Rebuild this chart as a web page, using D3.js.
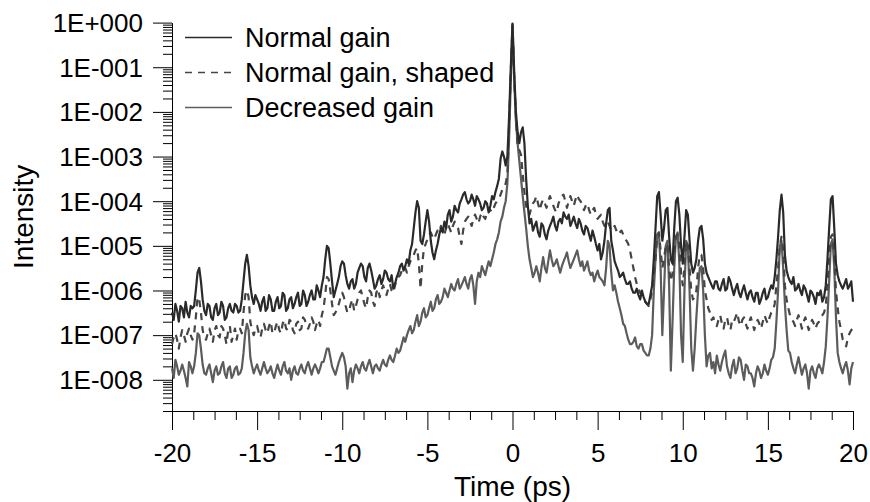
<!DOCTYPE html>
<html>
<head>
<meta charset="utf-8">
<script src="https://cdnjs.cloudflare.com/ajax/libs/d3/7.8.5/d3.min.js"></script>
<style>
	body { margin: 0; background: #fff; }
	text { font-family: "Liberation Sans", Arial, Helvetica, sans-serif; fill: #000; }
</style>
</head>
<body>
<div id="chart"></div>
<script>

///////////////////////////////////////////////////////////////////////////
//////////////////////////////// The data /////////////////////////////////
///////////////////////////////////////////////////////////////////////////

//One sample every 0.1 ps, from -20 ps to 20 ps (401 points per trace, 2 ps per row)
var timeStart = -20,
	timeStep = 0.1;

var normalGain = [
	3.2e-7, 2.2e-7, 5e-7, 3.5e-7, 2e-7, 4.5e-7, 4e-7, 2.5e-7, 5.6e-7, 3.2e-7, 2.5e-7, 4.5e-7, 4e-7, 4.5e-7, 1e-6, 2.5e-6, 3.2e-6, 1.6e-6, 6.3e-7, 3.5e-7,
	2.8e-7, 5e-7, 4.5e-7, 2.5e-7, 2.2e-7, 4e-7, 5e-7, 2.8e-7, 3.2e-7, 5.6e-7, 4.5e-7, 2.2e-7, 2.5e-7, 4e-7, 5e-7, 3.5e-7, 3.2e-7, 5e-7, 4.5e-7, 3.2e-7,
	3.5e-7, 6.3e-7, 1.6e-6, 4e-6, 6.3e-6, 3.5e-6, 1.3e-6, 7.1e-7, 5e-7, 7.9e-7, 6.3e-7, 5e-7, 3.5e-7, 5.6e-7, 7.1e-7, 3.5e-7, 4e-7, 7.9e-7, 6.3e-7, 3.5e-7,
	3.5e-7, 5.6e-7, 7.1e-7, 4e-7, 4.5e-7, 8.9e-7, 7.9e-7, 3.5e-7, 4e-7, 6.3e-7, 7.1e-7, 4e-7, 5e-7, 7.1e-7, 8.9e-7, 4.5e-7, 5e-7, 1e-6, 7.9e-7, 4.5e-7,
	5.6e-7, 7.9e-7, 1e-6, 6.3e-7, 6.3e-7, 1.3e-6, 1e-6, 7.1e-7, 1.3e-6, 2e-6, 5e-6, 1e-5, 8.9e-6, 4e-6, 1.6e-6, 7.1e-7, 1e-6, 1.4e-6, 2e-6, 3.5e-6,
	4.5e-6, 4e-6, 2.2e-6, 1.4e-6, 1.1e-6, 1.6e-6, 1.8e-6, 1.1e-6, 1.4e-6, 2.5e-6, 3.2e-6, 4e-6, 3.5e-6, 2e-6, 1.6e-6, 3.2e-6, 4e-6, 2.8e-6, 1.8e-6, 1.1e-6,
	1.3e-6, 1.8e-6, 2.2e-6, 1.4e-6, 1.8e-6, 2.8e-6, 2.5e-6, 1.8e-6, 1.6e-6, 2.2e-6, 1.1e-6, 1.4e-6, 2e-6, 2.5e-6, 3.5e-6, 4e-6, 2.8e-6, 3.5e-6, 5e-6, 4e-6,
	7.9e-6, 1.1e-5, 2.5e-5, 5.6e-5, 1e-4, 7.1e-5, 1.3e-5, 1.1e-5, 1.8e-5, 3.5e-5, 6.3e-5, 3.5e-5, 1.3e-5, 7.1e-6, 5e-6, 7.9e-6, 1.1e-5, 1.8e-5, 2.5e-5, 2e-5,
	3.5e-5, 2.5e-5, 5e-5, 6.3e-5, 3.5e-5, 4.5e-5, 7.9e-5, 6.3e-5, 5.6e-5, 8.9e-5, 1.1e-4, 1.4e-4, 1.6e-4, 1.1e-4, 8.9e-5, 1e-4, 1.4e-4, 1.1e-4, 7.9e-5, 1.3e-4,
	1.1e-4, 8.9e-5, 6.3e-5, 7.1e-5, 1e-4, 8.9e-5, 5.6e-5, 7.9e-5, 1.3e-4, 1.1e-4, 1.6e-4, 2.2e-4, 3.2e-4, 8.9e-4, 1.3e-3, 1e-3, 6.3e-4, 1e-3, 7.9e-3, 1e-1,
	0.95, 8e-2, 1e-2, 3.5e-3, 2e-3, 3.5e-3, 4.5e-3, 2e-3, 3.2e-4, 7.9e-5, 3.2e-5, 4e-5, 2.2e-5, 2.8e-5, 3.5e-5, 2e-5, 1.6e-5, 3.2e-5, 2.8e-5, 1.8e-5,
	1.4e-5, 2.2e-5, 2.8e-5, 3.5e-5, 4.5e-5, 2.8e-5, 2.2e-5, 3.5e-5, 4e-5, 3.2e-5, 5.6e-5, 4.5e-5, 4e-5, 5e-5, 2.8e-5, 3.5e-5, 4.5e-5, 3.2e-5, 2.5e-5, 4e-5,
	3.2e-5, 2.2e-5, 1.8e-5, 2.8e-5, 2.5e-5, 1.8e-5, 1.3e-5, 2.2e-5, 1.6e-5, 1.1e-5, 7.9e-6, 1.1e-5, 5e-6, 7.1e-6, 1.3e-5, 3.2e-5, 6.3e-5, 7.1e-5, 1.3e-5, 7.9e-6,
	4.5e-6, 3.5e-6, 2.8e-6, 2e-6, 2.2e-6, 2.5e-6, 1.8e-6, 1.4e-6, 1.4e-6, 1.6e-6, 1.1e-6, 8.9e-7, 8.9e-7, 1.1e-6, 7.9e-7, 6.3e-7, 1e-6, 7.1e-7, 5.6e-7, 5e-7,
	5e-7, 7.9e-7, 1.3e-6, 5e-6, 2.5e-5, 1.3e-4, 1.6e-4, 5e-5, 1.3e-5, 2.5e-5, 6.3e-5, 7.1e-5, 1.6e-5, 5e-6, 4e-6, 2.5e-5, 1e-4, 1.2e-4, 5e-5, 1e-5,
	4e-6, 1.6e-5, 6.3e-5, 5e-5, 1.3e-5, 4e-6, 2.5e-6, 3.2e-6, 5e-6, 1.3e-5, 2.5e-5, 2.8e-5, 1.4e-5, 4e-6, 2.5e-6, 2e-6, 1.6e-6, 1.3e-6, 1.1e-6, 1.6e-6,
	1.6e-6, 1.1e-6, 1e-6, 1.4e-6, 1.8e-6, 1e-6, 1.1e-6, 2e-6, 1.6e-6, 1.1e-6, 7.9e-7, 1.1e-6, 1.4e-6, 8.9e-7, 7.1e-7, 1e-6, 1.3e-6, 8.9e-7, 6.3e-7, 8.9e-7,
	1e-6, 7.1e-7, 5.6e-7, 8.9e-7, 8.9e-7, 5e-7, 6.3e-7, 8.9e-7, 1.1e-6, 6.3e-7, 7.1e-7, 1e-6, 1.3e-6, 1.1e-6, 2e-6, 5e-6, 1.6e-5, 6.3e-5, 1.4e-4, 5.6e-5,
	6.3e-6, 2.8e-6, 2e-6, 1.6e-6, 1.4e-6, 2e-6, 1e-6, 1.1e-6, 1.4e-6, 1e-6, 7.9e-7, 1.3e-6, 1.1e-6, 7.9e-7, 5.6e-7, 1e-6, 8.9e-7, 7.1e-7, 5e-7, 8.9e-7,
	7.9e-7, 1e-6, 5.6e-7, 7.1e-7, 1.3e-6, 5e-6, 2.5e-5, 1.1e-4, 1.3e-4, 2.5e-5, 4e-6, 2.2e-6, 1.6e-6, 1.3e-6, 1.1e-6, 1.4e-6, 1.8e-6, 1.1e-6, 1.3e-6, 1.6e-6,
	5.6e-7
];

var normalGainShaped = [
	6.3e-8, 8.9e-8, 1.1e-7, 7.9e-8, 5e-8, 8.9e-8, 1.3e-7, 1e-7, 7.1e-8, 1.1e-7, 1.4e-7, 1e-7, 7.9e-8, 1.1e-7, 2.5e-7, 7.1e-7, 6.3e-7, 3.2e-7, 1.3e-7, 8.9e-8,
	7.9e-8, 1.1e-7, 1.4e-7, 1e-7, 7.1e-8, 1.3e-7, 1.6e-7, 1e-7, 8.9e-8, 1.6e-7, 1.4e-7, 1e-7, 6.3e-8, 1.3e-7, 1.6e-7, 7.1e-8, 1e-7, 1.4e-7, 7.9e-8, 1.3e-7,
	1.4e-7, 1.1e-7, 3.2e-7, 7.9e-7, 1e-6, 7.1e-7, 2e-7, 1.3e-7, 1e-7, 1.4e-7, 1.6e-7, 1.1e-7, 8.9e-8, 1.4e-7, 1.8e-7, 1.3e-7, 1.1e-7, 1.6e-7, 2e-7, 1.1e-7,
	1.1e-7, 1.6e-7, 2e-7, 1.3e-7, 1.1e-7, 1.8e-7, 2.2e-7, 1.4e-7, 1.3e-7, 2.2e-7, 2e-7, 1.3e-7, 1.1e-7, 1.8e-7, 2e-7, 1.3e-7, 1.4e-7, 2.5e-7, 2.2e-7, 1.6e-7,
	1.4e-7, 1.8e-7, 2.5e-7, 2e-7, 1.3e-7, 1.8e-7, 2.2e-7, 1.6e-7, 2.8e-7, 4e-7, 7.9e-7, 2e-6, 1.8e-6, 1e-6, 5e-7, 2.8e-7, 3.2e-7, 4e-7, 5e-7, 7.1e-7,
	8.9e-7, 7.1e-7, 4.5e-7, 3.2e-7, 3.5e-7, 5e-7, 6.3e-7, 3.5e-7, 4.5e-7, 6.3e-7, 8.9e-7, 1e-6, 7.1e-7, 5e-7, 4e-7, 7.1e-7, 1e-6, 8.9e-7, 5.6e-7, 4.5e-7,
	8.9e-7, 1.1e-6, 7.1e-7, 1e-6, 1.3e-6, 1e-6, 7.9e-7, 1.1e-6, 1.4e-6, 1e-6, 8.9e-7, 1.3e-6, 1.8e-6, 2e-6, 2.2e-6, 2.8e-6, 3.5e-6, 3.2e-6, 2.5e-6, 3.5e-6,
	4.5e-6, 5e-6, 6.3e-6, 7.9e-6, 8.9e-6, 4e-6, 1.1e-6, 4e-6, 8.9e-6, 1.1e-5, 1.4e-5, 1.8e-5, 2e-5, 1.6e-5, 1.4e-5, 1.8e-5, 2.2e-5, 2e-5, 2.8e-5, 2.2e-5,
	1.8e-5, 2.5e-5, 3.2e-5, 2.5e-5, 2e-5, 2.8e-5, 3.5e-5, 2.8e-5, 2.5e-5, 1.6e-5, 1.1e-5, 2.2e-5, 3.5e-5, 4e-5, 4.5e-5, 3.5e-5, 2.8e-5, 4e-5, 5e-5, 4e-5,
	3.2e-5, 4.5e-5, 5.6e-5, 4.5e-5, 4e-5, 5.6e-5, 7.1e-5, 6.3e-5, 5.6e-5, 7.1e-5, 8.9e-5, 1e-4, 1.1e-4, 1.4e-4, 1.8e-4, 2e-4, 2.5e-4, 4e-4, 5e-3, 8e-2,
	0.9, 6e-2, 7.9e-3, 1.6e-3, 1.4e-3, 1.1e-3, 4e-4, 1.6e-4, 7.9e-5, 5.6e-5, 5e-5, 7.1e-5, 8.9e-5, 1e-4, 1.3e-4, 8.9e-5, 6.3e-5, 8.9e-5, 1.1e-4, 8.9e-5,
	7.1e-5, 1e-4, 1.3e-4, 1e-4, 7.9e-5, 6.3e-5, 5.6e-5, 8.9e-5, 1.1e-4, 1.3e-4, 1.4e-4, 1e-4, 7.1e-5, 1e-4, 1.3e-4, 1e-4, 7.9e-5, 1.1e-4, 1.4e-4, 1.1e-4,
	1e-4, 7.9e-5, 6.3e-5, 7.9e-5, 8.9e-5, 6.3e-5, 5e-5, 6.3e-5, 7.1e-5, 5e-5, 4e-5, 4.5e-5, 5e-5, 3.5e-5, 2.8e-5, 3.5e-5, 3.5e-5, 2.8e-5, 2.2e-5, 2.5e-5,
	2.8e-5, 2.2e-5, 1.8e-5, 2e-5, 2.2e-5, 1.8e-5, 1.4e-5, 1.3e-5, 1.1e-5, 8e-6, 5e-6, 3.2e-6, 2e-6, 1.4e-6, 1.1e-6, 8.9e-7, 7.9e-7, 6.3e-7, 5.6e-7, 5e-7,
	4.5e-7, 6.3e-7, 1e-6, 2.5e-6, 5e-6, 1.6e-5, 2e-5, 8e-6, 3.2e-6, 5e-6, 1e-5, 1.1e-5, 3.2e-6, 1.6e-6, 2.5e-6, 6.3e-6, 1.6e-5, 1.8e-5, 1e-5, 2.5e-6,
	1.3e-6, 3.2e-6, 1.3e-5, 1e-5, 3.2e-6, 1e-6, 6.3e-7, 7.1e-7, 1e-6, 3.2e-6, 6.3e-6, 6.3e-6, 3.2e-6, 1e-6, 6.3e-7, 4e-7, 3.2e-7, 2.2e-7, 2.5e-7, 1.8e-7,
	1.6e-7, 2.2e-7, 2.8e-7, 1.8e-7, 1.4e-7, 2.2e-7, 2.5e-7, 1.6e-7, 1.3e-7, 2.2e-7, 2e-7, 2.5e-7, 3.2e-7, 2e-7, 1.6e-7, 2.2e-7, 2.5e-7, 1.8e-7, 1.4e-7, 2e-7,
	2.5e-7, 1.8e-7, 1.3e-7, 1.8e-7, 2.2e-7, 1.8e-7, 1.4e-7, 2e-7, 2.8e-7, 2.2e-7, 1.8e-7, 2.5e-7, 3.2e-7, 3.5e-7, 5e-7, 1.3e-6, 3.2e-6, 1e-5, 1.6e-5, 8e-6,
	1.3e-6, 6.3e-7, 4e-7, 2.8e-7, 2.2e-7, 2e-7, 1.6e-7, 2.2e-7, 2.8e-7, 2e-7, 1.4e-7, 2e-7, 2.5e-7, 1.8e-7, 1.3e-7, 1.8e-7, 2.2e-7, 1.8e-7, 1.4e-7, 1.8e-7,
	2e-7, 2.5e-7, 2.8e-7, 3.2e-7, 4.5e-7, 1.3e-6, 5e-6, 1.6e-5, 1.8e-5, 5e-6, 1e-6, 4e-7, 2e-7, 1.3e-7, 7.9e-8, 7.1e-8, 5.6e-8, 8.9e-8, 1.1e-7, 1.3e-7,
	1.4e-7
];

var decreasedGain = [
	1.8e-8, 1.1e-8, 2.8e-8, 2e-8, 1.3e-8, 1.6e-8, 2.2e-8, 1.6e-8, 1.1e-8, 7.1e-9, 2.5e-8, 2e-8, 1.4e-8, 2e-8, 4e-8, 1.1e-7, 1e-7, 5e-8, 2.2e-8, 1.4e-8,
	1.3e-8, 1.8e-8, 2.2e-8, 1.4e-8, 8.9e-9, 1.6e-8, 2e-8, 1.3e-8, 1.4e-8, 2e-8, 2.5e-8, 1.4e-8, 1.1e-8, 1.8e-8, 2e-8, 1.1e-8, 1.3e-8, 1.8e-8, 2e-8, 1.3e-8,
	1.4e-8, 1.8e-8, 4e-8, 1.1e-7, 1.8e-7, 1.3e-7, 3.2e-8, 2e-8, 1.4e-8, 1.8e-8, 2.2e-8, 1.6e-8, 1.3e-8, 1.8e-8, 2.5e-8, 1.8e-8, 1.4e-8, 1.6e-8, 2e-8, 1.4e-8,
	1.1e-8, 1.6e-8, 2.2e-8, 1.6e-8, 1.3e-8, 2e-8, 2.5e-8, 1.6e-8, 1.4e-8, 1.8e-8, 1e-8, 1.6e-8, 2e-8, 1.4e-8, 1.3e-8, 1.8e-8, 2.2e-8, 1.6e-8, 1.4e-8, 2e-8,
	2.5e-8, 1.8e-8, 1.3e-8, 1.8e-8, 2.2e-8, 1.8e-8, 1.4e-8, 1.8e-8, 2.5e-8, 2.5e-8, 3.5e-8, 5e-8, 5e-8, 3.2e-8, 2e-8, 1.6e-8, 1.3e-8, 1.8e-8, 2.5e-8, 3.2e-8,
	4e-8, 3.2e-8, 2e-8, 6.3e-9, 1.4e-8, 1.8e-8, 8.9e-9, 1.6e-8, 2.2e-8, 1.8e-8, 1.4e-8, 2e-8, 2.5e-8, 1.8e-8, 1.6e-8, 2.2e-8, 2.8e-8, 2e-8, 1.4e-8, 2e-8,
	2.2e-8, 1.8e-8, 1.6e-8, 2.2e-8, 2.8e-8, 2.2e-8, 2e-8, 2.8e-8, 3.5e-8, 2.8e-8, 2.5e-8, 3.5e-8, 5e-8, 4e-8, 4.5e-8, 6.3e-8, 8.9e-8, 7.1e-8, 1e-7, 1.3e-7,
	1.6e-7, 1.1e-7, 1.3e-7, 2e-7, 2.8e-7, 1.6e-7, 2e-7, 3.2e-7, 4e-7, 2.5e-7, 2.8e-7, 4e-7, 5.6e-7, 3.5e-7, 4e-7, 6.3e-7, 7.9e-7, 5e-7, 5.6e-7, 7.1e-7,
	1.1e-6, 8.9e-7, 7.1e-7, 1e-6, 1.4e-6, 1.1e-6, 1e-6, 1.4e-6, 1.8e-6, 1.1e-6, 1.3e-6, 1.6e-6, 2e-6, 1.4e-6, 1.1e-6, 1.8e-6, 2.2e-6, 1.3e-6, 5e-7, 1.6e-6,
	2.5e-6, 2e-6, 3.5e-6, 2.8e-6, 2.2e-6, 3.2e-6, 4.5e-6, 3.5e-6, 5e-6, 7.1e-6, 1.1e-5, 1.4e-5, 2e-5, 3.5e-5, 4.5e-5, 7.1e-5, 1e-4, 2.5e-4, 2.5e-3, 5e-2,
	0.85, 5e-2, 6.3e-3, 2e-3, 7.9e-4, 3.2e-4, 1.3e-4, 5.6e-5, 2.5e-5, 1e-5, 5e-6, 3.2e-6, 2e-6, 2.5e-6, 3.5e-6, 2.5e-6, 1.6e-6, 3.2e-6, 5.6e-6, 3.2e-6,
	2.5e-6, 4.5e-6, 7.9e-6, 5e-6, 3.5e-6, 4e-6, 5e-6, 3.5e-6, 2.5e-6, 3.5e-6, 4.5e-6, 5.6e-6, 7.1e-6, 4.5e-6, 3.2e-6, 4e-6, 5e-6, 6.3e-6, 7.9e-6, 5e-6,
	3.5e-6, 4.5e-6, 2.8e-6, 3.5e-6, 4.5e-6, 2.8e-6, 2.2e-6, 2.5e-6, 1.6e-6, 2.2e-6, 2.8e-6, 2e-6, 1.8e-6, 1.6e-6, 1.3e-6, 3.2e-6, 1.3e-5, 1e-5, 2.5e-6, 1e-6,
	1.3e-6, 8.9e-7, 5.6e-7, 4e-7, 2.8e-7, 1.8e-7, 1.6e-7, 1.1e-7, 7.9e-8, 6.3e-8, 6.3e-8, 7.1e-8, 8.9e-8, 5.6e-8, 5e-8, 6.3e-8, 6.3e-8, 4.5e-8, 4e-8, 3.5e-8,
	3.5e-8, 5e-8, 1e-7, 1e-6, 5e-6, 1.8e-5, 2e-5, 3.2e-6, 1e-7, 1e-6, 1e-5, 1.3e-5, 1.3e-6, 1.6e-8, 2e-7, 3.2e-6, 1.6e-5, 2e-5, 4e-6, 1e-7,
	2.5e-8, 1e-6, 1.3e-5, 1e-5, 1e-6, 5e-8, 1.6e-8, 5e-8, 2.5e-7, 1e-6, 3.2e-6, 3.5e-6, 1e-6, 1e-7, 2e-8, 3.5e-8, 4e-8, 1.8e-8, 2.5e-8, 1.4e-8,
	3.5e-8, 2.2e-8, 1.6e-8, 2.5e-8, 3.5e-8, 4.5e-8, 2e-8, 1.4e-8, 1.1e-8, 2e-8, 2.8e-8, 1.4e-8, 1.8e-8, 3.2e-8, 2.8e-8, 1.6e-8, 1e-8, 2.2e-8, 2e-8, 1.4e-8,
	1.4e-8, 1.1e-8, 7.1e-9, 1.4e-8, 2e-8, 1.6e-8, 1.1e-8, 1.4e-8, 2.2e-8, 1.6e-8, 1.3e-8, 1.8e-8, 2.8e-8, 3.2e-8, 5e-8, 2e-7, 1e-6, 1e-5, 1.3e-5, 3.2e-6,
	5e-7, 1.3e-7, 4.5e-8, 4e-8, 2.5e-8, 1.8e-8, 1.4e-8, 2.2e-8, 3.2e-8, 2e-8, 1.3e-8, 1.8e-8, 2.2e-8, 1.4e-8, 6.3e-9, 1.6e-8, 2e-8, 1.4e-8, 1.1e-8, 1.8e-8,
	2.2e-8, 1.8e-8, 1.4e-8, 2.5e-8, 5.6e-8, 2.5e-7, 1.6e-6, 1.1e-5, 1.4e-5, 3.2e-6, 2.5e-7, 4e-8, 2.5e-8, 1.8e-8, 1.4e-8, 2e-8, 2.5e-8, 1.6e-8, 7.9e-9, 1.8e-8,
	2.5e-8
];

var seriesNames = ["Normal gain", "Normal gain, shaped", "Decreased gain"];
var seriesColours = ["#2a2a2a", "#454545", "#5c5c5c"];
var seriesDashes = [null, "7,6", null];

var xTicks = [-20, -15, -10, -5, 0, 5, 10, 15, 20];
var xMinorStep = 1.25;
var yTicks = [1, 1e-1, 1e-2, 1e-3, 1e-4, 1e-5, 1e-6, 1e-7, 1e-8];
var yTickLabels = ["1E+000", "1E-001", "1E-002", "1E-003", "1E-004", "1E-005", "1E-006", "1E-007", "1E-008"];

///////////////////////////////////////////////////////////////////////////
//////////////////// Set up and initiate svg container ////////////////////
///////////////////////////////////////////////////////////////////////////

var totalWidth = 870,
	totalHeight = 502;

var plot = { left: 172, right: 853, top: 22.6, bottom: 411 };

var svg = d3.select("#chart")
	.append("svg")
	.attr("width", totalWidth)
	.attr("height", totalHeight);

var x = d3.scaleLinear()
	.domain([-20, 20])
	.range([plot.left, plot.right]);

var y = d3.scaleLog()
	.domain([2e-9, 1])
	.range([plot.bottom, plot.top]);

///////////////////////////////////////////////////////////////////////////
//////////////////////////////// The axes /////////////////////////////////
///////////////////////////////////////////////////////////////////////////

function styleAxis(g) {
	g.attr("font-family", null).attr("font-size", null);
	g.selectAll("line").attr("stroke", "#000");
	g.select(".domain").attr("stroke", "#000");
}

//Minor ticks on the log axis: 2..9 of every decade
var yMinor = y.ticks().filter(function(d) {
	return yTicks.every(function(t) { return Math.abs(d / t - 1) > 1e-6; });
});

svg.append("g")
	.attr("transform", "translate(" + plot.left + ",0)")
	.call(d3.axisLeft(y).tickValues(yMinor).tickSize(9).tickSizeOuter(0).tickFormat(""))
	.call(styleAxis)
	.call(function(g) { g.select(".domain").remove(); });

svg.append("g")
	.attr("class", "yAxis")
	.attr("transform", "translate(" + plot.left + ",0)")
	.call(d3.axisLeft(y).tickValues(yTicks).tickSize(19).tickSizeOuter(0).tickPadding(10)
		.tickFormat(function(d, i) { return yTickLabels[i]; }))
	.call(styleAxis)
	.selectAll("text")
	.style("font-size", "26px")
	.attr("dy", "0.34em");

var xMinor = d3.range(-20, 20 + 1e-9, xMinorStep).filter(function(d) { return xTicks.indexOf(d) < 0; });

svg.append("g")
	.attr("transform", "translate(0," + plot.bottom + ")")
	.call(d3.axisBottom(x).tickValues(xMinor).tickSize(9).tickSizeOuter(0).tickFormat(""))
	.call(styleAxis)
	.call(function(g) { g.select(".domain").remove(); });

svg.append("g")
	.attr("class", "xAxis")
	.attr("transform", "translate(0," + plot.bottom + ")")
	.call(d3.axisBottom(x).tickValues(xTicks).tickSize(19).tickSizeOuter(0).tickPadding(14)
		.tickFormat(function(d) { return String(d); }))
	.call(styleAxis)
	.selectAll("text")
	.style("font-size", "26px")
	.attr("dy", "0.71em");

//Axis titles
svg.append("text")
	.attr("x", (plot.left + plot.right) / 2)
	.attr("y", 496)
	.attr("text-anchor", "middle")
	.style("font-size", "28px")
	.text("Time (ps)");

svg.append("text")
	.attr("transform", "translate(33," + ((plot.top + plot.bottom) / 2) + ") rotate(-90)")
	.attr("text-anchor", "middle")
	.style("font-size", "28px")
	.text("Intensity");

///////////////////////////////////////////////////////////////////////////
//////////////////////////////// The lines ////////////////////////////////
///////////////////////////////////////////////////////////////////////////

var allSeries = [normalGain, normalGainShaped, decreasedGain];

var line = d3.line()
	.x(function(d, i) { return x(timeStart + i * timeStep); })
	.y(function(d) { return y(d); });

//Draw the decreased gain first so the darker traces sit on top
[2, 1, 0].forEach(function(s) {
	svg.append("path")
		.datum(allSeries[s])
		.attr("fill", "none")
		.attr("stroke", seriesColours[s])
		.attr("stroke-width", 2.2)
		.attr("stroke-linejoin", "round")
		.attr("stroke-dasharray", seriesDashes[s])
		.attr("d", line);
});

///////////////////////////////////////////////////////////////////////////
/////////////////////////////// The legend ////////////////////////////////
///////////////////////////////////////////////////////////////////////////

var legend = svg.append("g")
	.attr("class", "legend")
	.attr("transform", "translate(185,37)");

var legendRow = legend.selectAll(".legendRow")
	.data(seriesNames)
	.enter().append("g")
	.attr("class", "legendRow")
	.attr("transform", function(d, i) { return "translate(0," + (i * 35) + ")"; });

legendRow.append("line")
	.attr("x1", 0)
	.attr("x2", 47)
	.attr("y1", 0.5)
	.attr("y2", 0.5)
	.attr("stroke", function(d, i) { return seriesColours[i]; })
	.attr("stroke-width", 1.5)
	.attr("stroke-dasharray", function(d, i) { return seriesDashes[i]; });

legendRow.append("text")
	.attr("x", 60)
	.attr("y", 9.5)
	.style("font-size", "27px")
	.text(function(d) { return d; });

</script>
</body>
</html>
